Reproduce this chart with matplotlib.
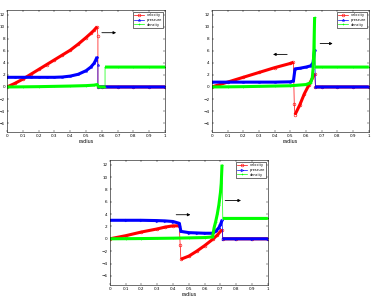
import numpy as np
import matplotlib.pyplot as plt

# panel 1
r1_vel = [0, 0.05, 0.1, 0.15, 0.2, 0.25, 0.3, 0.35, 0.4, 0.45, 0.5, 0.53, 0.55, 0.57, 0.575, 0.575, 0.6, 0.7, 0.8, 0.9, 1.0]
v1_vel = [0, 0.6, 1.3, 2.1, 2.9, 3.7, 4.5, 5.3, 6.1, 7.1, 8.2, 8.9, 9.4, 10.0, 8.5, 0, 0, 0, 0, 0, 0]
r1_pre = [0, 0.05, 0.1, 0.15, 0.2, 0.25, 0.3, 0.35, 0.4, 0.45, 0.5, 0.53, 0.55, 0.56, 0.57, 0.575, 0.575, 0.6, 0.7, 0.8, 0.9, 1.0]
v1_pre = [1.6, 1.6, 1.6, 1.6, 1.6, 1.6, 1.6, 1.65, 1.8, 2.1, 2.7, 3.3, 3.9, 4.4, 5.0, 3.7, 0, 0, 0, 0, 0, 0]
r1_den = [0, 0.1, 0.2, 0.3, 0.4, 0.5, 0.55, 0.57, 0.58, 0.6, 0.62, 0.62, 0.7, 0.8, 0.9, 1.0]
v1_den = [0, 0.02, 0.05, 0.1, 0.15, 0.22, 0.3, 0.4, 0, 0, 0, 3.3, 3.3, 3.3, 3.3, 3.3]

# panel 2
r2_vel = [0, 0.1, 0.2, 0.3, 0.4, 0.5, 0.52, 0.525, 0.53, 0.56, 0.59, 0.62, 0.655, 0.66, 0.7, 0.8, 0.9, 1.0]
v2_vel = [0, 0.8, 1.6, 2.4, 3.2, 3.9, 4.1, -2.8, -4.6, -3.0, -1.1, 0.4, 2.2, 0, 0, 0, 0, 0]
r2_pre = [0, 0.1, 0.2, 0.3, 0.4, 0.5, 0.52, 0.53, 0.56, 0.6, 0.63, 0.645, 0.655, 0.66, 0.7, 0.8, 0.9, 1.0]
v2_pre = [0.8, 0.8, 0.8, 0.8, 0.8, 0.85, 1.0, 3.0, 3.1, 3.3, 3.5, 4.0, 6.2, 0, 0, 0, 0, 0]
r2_den = [0, 0.1, 0.2, 0.3, 0.4, 0.5, 0.6, 0.63, 0.64, 0.645, 0.65, 0.655, 0.66, 0.7, 0.8, 0.9, 1.0]
v2_den = [0, 0.02, 0.05, 0.1, 0.15, 0.2, 0.4, 0.7, 1.5, 3.0, 6.0, 11.6, 3.3, 3.3, 3.3, 3.3, 3.3]

# panel 3
r3_vel = [0, 0.1, 0.2, 0.3, 0.35, 0.4, 0.44, 0.445, 0.45, 0.5, 0.55, 0.6, 0.65, 0.68, 0.71, 0.715, 0.8, 0.9, 1.0]
v3_vel = [0, 0.5, 1.1, 1.6, 1.9, 2.1, 2.1, -1.0, -3.3, -2.8, -2.0, -1.1, -0.1, 0.6, 1.5, 0, 0, 0, 0]
r3_pre = [0, 0.1, 0.2, 0.3, 0.35, 0.4, 0.44, 0.45, 0.5, 0.55, 0.6, 0.65, 0.67, 0.69, 0.7, 0.71, 0.715, 0.8, 0.9, 1.0]
v3_pre = [3.0, 3.0, 3.0, 2.95, 2.9, 2.8, 2.5, 1.2, 1.0, 0.95, 0.9, 0.9, 1.2, 1.8, 2.3, 3.0, 0, 0, 0, 0]
r3_den = [0, 0.1, 0.2, 0.3, 0.4, 0.5, 0.6, 0.65, 0.66, 0.67, 0.68, 0.69, 0.7, 0.705, 0.71, 0.715, 0.8, 0.9, 1.0]
v3_den = [0, 0.02, 0.04, 0.07, 0.1, 0.15, 0.2, 0.3, 1.8, 2.8, 4.0, 5.5, 7.5, 9.0, 12.0, 3.3, 3.3, 3.3, 3.3]

panels = [
    ([0.019, 0.555, 0.426, 0.41], (r1_vel, v1_vel), (r1_pre, v1_pre), (r1_den, v1_den), '*',
     [((0.6, 9.0), (0.69, 9.0))]),
    ([0.571, 0.555, 0.423, 0.41], (r2_vel, v2_vel), (r2_pre, v2_pre), (r2_den, v2_den), '*',
     [((0.48, 5.4), (0.39, 5.4)), ((0.69, 7.2), (0.77, 7.2))]),
    ([0.296, 0.04, 0.426, 0.42], (r3_vel, v3_vel), (r3_pre, v3_pre), (r3_den, v3_den), '>',
     [((0.42, 3.9), (0.51, 3.9)), ((0.73, 6.2), (0.83, 6.2))]),
]


def draw(ax, x, y, color, marker, label):
    x = np.asarray(x, float)
    y = np.asarray(y, float)
    # thin line everywhere (shows the jumps), thick band where the curve is smooth
    ax.plot(x, y, '-', color=color, lw=0.5, marker=marker, ms=2, mfc='none', mew=0.4, label=label)
    dx, dy = np.diff(x), np.diff(y)
    jump = (dx < 0.008) & ((dx == 0) | (dy < -1))
    xs, ys = [x[0]], [y[0]]
    for i in range(1, len(x)):
        if jump[i - 1]:
            xs.append(np.nan)
            ys.append(np.nan)
        xs.append(x[i])
        ys.append(y[i])
    ax.plot(xs, ys, '-', color=color, lw=2.2, solid_capstyle='butt')


fig = plt.figure(figsize=(3.71, 2.97), dpi=100)
for pos, vel, pre, den, pmark, arrows in panels:
    ax = fig.add_axes(pos)
    draw(ax, vel[0], vel[1], '#ff0000', 'o', 'velocity')
    draw(ax, pre[0], pre[1], '#0000ff', pmark, 'pressure')
    draw(ax, den[0], den[1], '#00ff00', '+', 'density')
    for start, end in arrows:
        ax.annotate('', xy=end, xytext=start,
                    arrowprops=dict(arrowstyle='-|>', color='black', lw=0.6, mutation_scale=4,
                                    shrinkA=0, shrinkB=0))
    ax.set_xlim(0, 1)
    ax.set_ylim(-7.5, 12.7)
    ax.set_xticks([0, 0.1, 0.2, 0.3, 0.4, 0.5, 0.6, 0.7, 0.8, 0.9, 1])
    ax.set_xticklabels(['0', '0.1', '0.2', '0.3', '0.4', '0.5', '0.6', '0.7', '0.8', '0.9', '1'])
    ax.set_yticks([-6, -4, -2, 0, 2, 4, 6, 8, 10, 12])
    ax.tick_params(direction='in', top=True, right=True, labelsize=3, length=1.5, width=0.3, pad=1.5)
    for s in ax.spines.values():
        s.set_linewidth(0.4)
    ax.set_xlabel('radius', fontsize=3.5, labelpad=0.5)
    leg = ax.legend(loc='upper right', fontsize=2.5, handlelength=3, borderpad=0.3,
                    labelspacing=0.2, fancybox=False, edgecolor='black', framealpha=1)
    leg.get_frame().set_linewidth(0.4)

fig.savefig('out.png', dpi=100)
